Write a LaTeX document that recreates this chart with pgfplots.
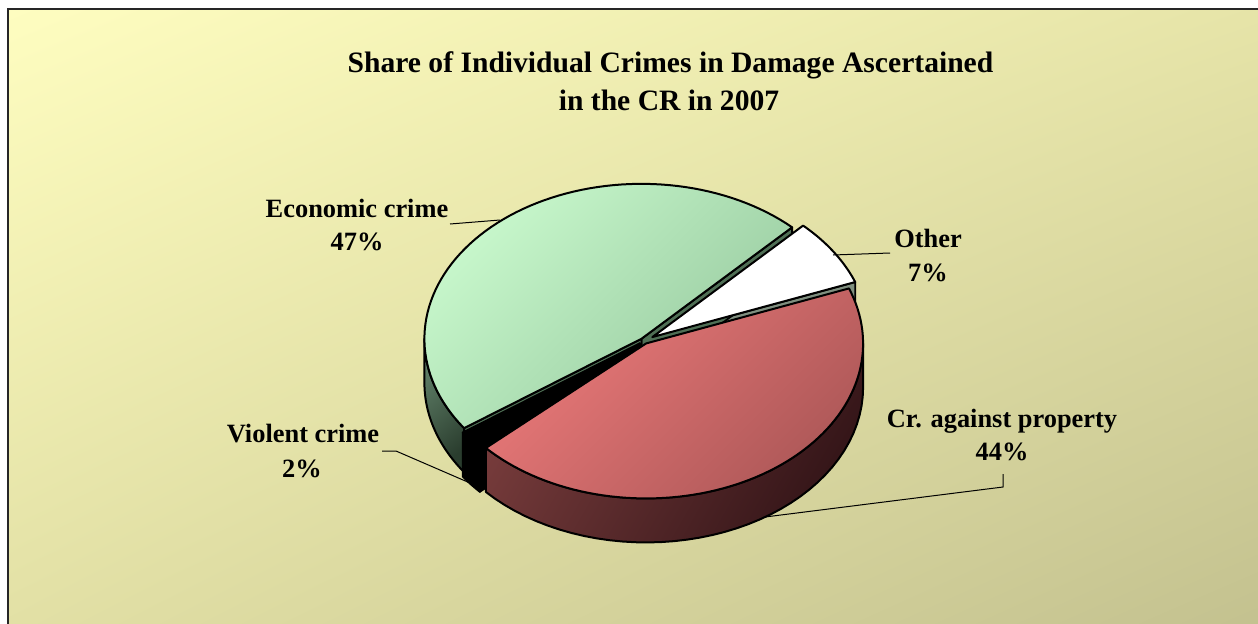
\documentclass[border=0pt]{standalone}
\usepackage{pgfplots}
\pgfplotsset{compat=1.18}
\usepackage{pgfplotstable}
\usetikzlibrary{shadings}
\usepackage{fontspec}
\setmainfont{Liberation Serif}

\definecolor{bgTL}{HTML}{FEFDC0}
\definecolor{bgTR}{HTML}{E6E4A8}
\definecolor{bgBL}{HTML}{E2E0A5}
\definecolor{bgBR}{HTML}{C3C18F}
\definecolor{grnL}{HTML}{C8F8CC}
\definecolor{grnD}{HTML}{96C89E}
\definecolor{grnWL}{HTML}{62826A}
\definecolor{grnWD}{HTML}{2A3D2E}
\definecolor{grnFace}{HTML}{4F6F55}
\definecolor{redL}{HTML}{EC7A7A}
\definecolor{redD}{HTML}{AE5858}
\definecolor{redWL}{HTML}{763B3B}
\definecolor{redWD}{HTML}{341518}
\definecolor{othFace}{HTML}{7F8F7F}

\pgfplotstableread{
name pct
Other 7
Property 44
Violent 2
Economic 47
}\piedata

% top face of a slice: style, apex x, apex y, angle from, angle to
\newcommand\topface[5]{%
  \addplot[#1, domain=#4:#5, samples=80] ({#2+\rx*cos(x)},{#3+\ry*sin(x)}) -- (axis cs:#2,#3) -- cycle;}
% outer wall: style, apex x, apex y, angle from, angle to
\newcommand\wall[5]{%
  \addplot[#1, samples at={0,...,81}]
   ({#2+\rx*cos(x<40.5 ? (#4)+(x/40)*((#5)-(#4)) : (#5)-((x-41)/40)*((#5)-(#4)))},
    {#3+\ry*sin(x<40.5 ? (#4)+(x/40)*((#5)-(#4)) : (#5)-((x-41)/40)*((#5)-(#4))) - (x<40.5 ? 0 : \dd)}) -- cycle;}

\begin{document}
\begin{tikzpicture}
\pgfplotstablegetelem{0}{pct}\of\piedata \let\pO\pgfplotsretval
\pgfplotstablegetelem{1}{pct}\of\piedata \let\pR\pgfplotsretval
\pgfplotstablegetelem{2}{pct}\of\piedata \let\pV\pgfplotsretval
\pgfplotstablegetelem{3}{pct}\of\piedata \let\pE\pgfplotsretval
\def\cx{644}\def\cy{282}\def\rx{217}\def\ry{155}\def\dd{44}
\pgfmathsetmacro\aO{46}
\pgfmathsetmacro\bO{\aO-3.6*\pO}
\pgfmathsetmacro\bR{\bO-3.6*\pR}
\pgfmathsetmacro\bV{\bR-3.6*\pV}
\pgfmathsetmacro\bE{\bV-3.6*\pE}
% apexes (slightly exploded slices)
\pgfmathsetmacro\xO{\cx+10*cos((\aO+\bO)/2)}
\pgfmathsetmacro\yO{\cy+10*sin((\aO+\bO)/2)*\ry/\rx}
\pgfmathsetmacro\xR{\cx+4*cos((\bO+\bR)/2)}
\pgfmathsetmacro\yR{\cy+4*sin((\bO+\bR)/2)*\ry/\rx}
\pgfmathsetmacro\xV{\cx+5*cos((\bR+\bV)/2)}
\pgfmathsetmacro\yV{\cy+5*sin((\bR+\bV)/2)*\ry/\rx}
\pgfmathsetmacro\xE{\cx+4*cos((\bV+\bE)/2)}
\pgfmathsetmacro\yE{\cy+4*sin((\bV+\bE)/2)*\ry/\rx}
\pgfmathsetmacro\yOd{\yO-\dd}
\pgfmathsetmacro\yVd{\yV-\dd}
\pgfmathsetmacro\yEd{\yE-\dd}
% radial faces rim points
\pgfmathsetmacro\rOx{\xO+\rx*cos(\bO)}\pgfmathsetmacro\rOy{\yO+\ry*sin(\bO)}\pgfmathsetmacro\rOyd{\rOy-\dd}
\pgfmathsetmacro\rEx{\xE+\rx*cos(\bE)}\pgfmathsetmacro\rEy{\yE+\ry*sin(\bE)}\pgfmathsetmacro\rEyd{\rEy-\dd}
\pgfmathsetmacro\sEx{\xE+\rx*cos(\bV)}\pgfmathsetmacro\sEy{\yE+\ry*sin(\bV)}\pgfmathsetmacro\sEyd{\sEy-\dd}
\pgfmathsetmacro\rVx{\xV+\rx*cos(\bR)}\pgfmathsetmacro\rVy{\yV+\ry*sin(\bR)}\pgfmathsetmacro\rVyd{\rVy-\dd}
\begin{axis}[
  width=629pt, height=311.5pt, scale only axis,
  xmin=0, xmax=1258, ymin=0, ymax=623,
  hide axis, clip=false,
  every axis plot/.append style={line join=round},
]
% background and frame
\shade[upper left=bgTL, upper right=bgTR, lower left=bgBL, lower right=bgBR]
  (axis cs:7.5,-5) rectangle (axis cs:1270,613.5);
\draw[line width=1pt, draw=black!85] (axis cs:7.5,-5) -- (axis cs:7.5,613.5) -- (axis cs:1270,613.5);
\coordinate (SW) at (axis cs:0,0);
\coordinate (NE) at (axis cs:1258,623);

% radial faces and walls (back to front)
\addplot[fill=othFace, draw=black, line width=0.9pt] coordinates {(\xO,\yO) (\rOx,\rOy) (\rOx,\rOyd) (\xO,\yOd) (\xO,\yO)};
\addplot[fill=grnFace, draw=black, line width=0.9pt] coordinates {(\xE,\yE) (\rEx,\rEy) (\rEx,\rEyd) (\xE,\yEd) (\xE,\yE)};
\addplot[fill=grnFace, draw=black, line width=0.9pt] coordinates {(\xE,\yE) (\sEx,\sEy) (\sEx,\sEyd) (\xE,\yEd) (\xE,\yE)};
\wall{top color=grnWL, bottom color=grnWD, shading angle=40, draw=black, line width=1pt}{\xE}{\yE}{-180}{\bV}
\addplot[fill=black, draw=black, line width=0.9pt] coordinates {(\xV,\yV) (\rVx,\rVy) (\rVx,\rVyd) (\xV,\yVd) (\xV,\yV)};
\wall{fill=black, draw=black, line width=1pt}{\xV}{\yV}{\bV}{\bR}
\wall{top color=redWL, bottom color=redWD, shading angle=60, draw=black, line width=1pt}{\xR}{\yR}{\bR}{0}

% top faces
\topface{top color=grnL, bottom color=grnD, shading angle=45, draw=black, line width=1pt}{\xE}{\yE}{\bE}{\bV}
\topface{fill=white, draw=black, line width=1pt}{\xO}{\yO}{\bO}{\aO}
\topface{top color=redL, bottom color=redD, shading angle=45, draw=black, line width=1pt}{\xR}{\yR}{\bR}{\bO}
\topface{fill=black, draw=black, line width=1pt}{\xV}{\yV}{\bV}{\bR}

% leader lines
\draw[line width=0.5pt] (axis cs:450,399) -- (axis cs:500,403);
\draw[line width=0.5pt] (axis cs:833,368) -- (axis cs:890,370);
\draw[line width=0.5pt] (axis cs:1003,149) -- (axis cs:1003,136) -- (axis cs:765,106);
\draw[line width=0.5pt] (axis cs:382,172) -- (axis cs:396,172) -- (axis cs:470,140);

% texts
\begin{scope}[every node/.style={anchor=base, inner sep=0pt, font=\bfseries\fontsize{13.2}{16}\selectfont}]
\node at (axis cs:670.5,551) {\fontsize{14.8}{18}\selectfont Share of Individual Crimes in Damage Ascertained};
\node at (axis cs:669,513) {\fontsize{14.8}{18}\selectfont in the CR in 2007};
\node at (axis cs:357,406) {Economic crime};
\node at (axis cs:357,373) {47\%};
\node at (axis cs:928,376) {Other};
\node at (axis cs:928,342) {7\%};
\node at (axis cs:1002,196) {Cr. against property};
\node at (axis cs:1002,163) {44\%};
\node at (axis cs:303,181) {Violent crime};
\node at (axis cs:302,146) {2\%};
\end{scope}
\end{axis}
\pgfresetboundingbox
\useasboundingbox (SW) rectangle (NE);
\end{tikzpicture}
\end{document}
